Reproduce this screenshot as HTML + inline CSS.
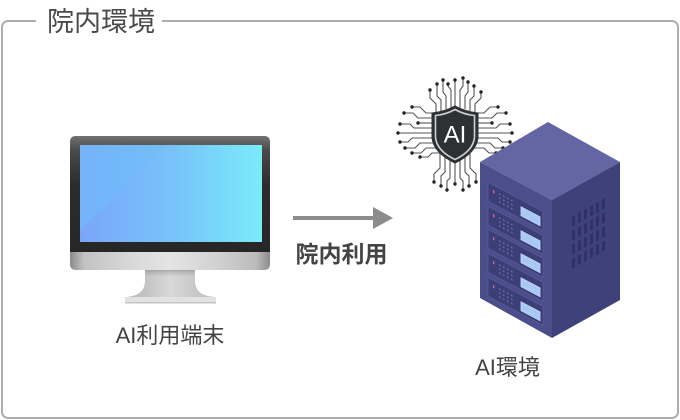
<!DOCTYPE html>
<html><head><meta charset="utf-8"><style>
html,body{margin:0;padding:0;background:#fff;}
svg{display:block;}
text{font-family:"Liberation Sans","Noto Sans CJK JP",sans-serif;}
</style></head><body>
<svg width="680" height="420" viewBox="0 0 680 420" xmlns="http://www.w3.org/2000/svg">
<defs>
<linearGradient id="bez" x1="0" y1="0" x2="0" y2="1">
<stop offset="0" stop-color="#727272"/><stop offset="0.12" stop-color="#4a4a4a"/><stop offset="0.4" stop-color="#2c2c2c"/><stop offset="1" stop-color="#262626"/>
</linearGradient>
<linearGradient id="scr" x1="0" y1="0" x2="1" y2="0">
<stop offset="0" stop-color="#7aa6fa"/><stop offset="0.5" stop-color="#78c2fa"/><stop offset="1" stop-color="#7aebfa"/>
</linearGradient>
<linearGradient id="chin" x1="0" y1="0" x2="1" y2="0">
<stop offset="0" stop-color="#8a8a8a"/><stop offset="0.07" stop-color="#c2c2c2"/><stop offset="0.3" stop-color="#d8d8d8"/><stop offset="0.5" stop-color="#e4e4e4"/><stop offset="0.75" stop-color="#d0d0d0"/><stop offset="0.93" stop-color="#bcbcbc"/><stop offset="1" stop-color="#8c8c8c"/>
</linearGradient>
<linearGradient id="neck" x1="0" y1="0" x2="1" y2="0">
<stop offset="0" stop-color="#b4b4b4"/><stop offset="0.5" stop-color="#d8d8d8"/><stop offset="1" stop-color="#bcbcbc"/>
</linearGradient>
<linearGradient id="neckv" x1="0" y1="0" x2="0" y2="1">
<stop offset="0" stop-color="#8a8a8a" stop-opacity="0.6"/><stop offset="0.25" stop-color="#aaa" stop-opacity="0"/>
</linearGradient>
</defs>

<!-- frame -->
<rect x="2" y="21" width="676" height="397" rx="6" fill="none" stroke="#aeaeae" stroke-width="2"/>
<rect x="36" y="12" width="126" height="18" fill="#fff"/>
<text x="47" y="31" font-size="27" fill="#4a4a4a" textLength="108" lengthAdjust="spacingAndGlyphs">院内環境</text>

<!-- monitor -->
<rect x="70" y="136" width="200" height="122" rx="5" fill="url(#bez)"/>
<rect x="80" y="145" width="182" height="97" fill="url(#scr)"/>
<polygon points="80,145 166,145 80,231" fill="#70bcfa" opacity="0.6"/>
<path d="M70 252 H270 V264 Q270 270 264 270 H76 Q70 270 70 264 Z" fill="url(#chin)"/>
<path d="M145 270 H195 V280 C195 290 200 296 215 297 H126 C140 296 145 290 145 280 Z" fill="url(#neck)"/>
<path d="M145 270 H195 V280 C195 290 200 296 215 297 H126 C140 296 145 290 145 280 Z" fill="url(#neckv)"/>
<rect x="125" y="297" width="91" height="6" fill="#e2e2e2"/>
<rect x="125" y="302" width="91" height="1.5" fill="#c4c4c4"/>

<text x="170" y="343" font-size="22" fill="#444" text-anchor="middle">AI利用端末</text>

<!-- arrow -->
<line x1="293" y1="218" x2="376" y2="218" stroke="#8c8c8c" stroke-width="4"/>
<polygon points="373,207 393,218 373,229" fill="#8c8c8c"/>
<text x="341.5" y="262" font-size="23" font-weight="bold" fill="#444" text-anchor="middle">院内利用</text>

<!-- AI circuit -->
<g fill="none" stroke="#555" stroke-width="1.1">
<path d="M434 113 H426 L420 107 H412"/>
<path d="M434 118 H418 L413 113 H404"/>
<path d="M434 123 H418"/>
<path d="M434 128 H414 L410 124 H400"/>
<path d="M434 133 H398"/>
<path d="M434 138 H412 L408 142 H400"/>
<path d="M436 143 H420 L415 148 H405"/>
<path d="M440 148 H426 L421 153 H412"/>
<path d="M444 153 H432 L428 157 H420"/>
<path d="M476 113 H484 L490 107 H498"/>
<path d="M476 118 H492 L497 113 H506"/>
<path d="M476 123 H492"/>
<path d="M476 128 H496 L500 124 H510"/>
<path d="M476 133 H512"/>
<path d="M476 138 H498 L502 142 H510"/>
<path d="M474 143 H490 L495 148 H503"/>
<path d="M470 148 H484 L489 153 H496"/>
<path d="M436 113 V104 L430 98 V90"/>
<path d="M441 111 V100 L437 96 V84"/>
<path d="M446 109 V96 L443 92 V80"/>
<path d="M451 108 V90 L448 86 V84"/>
<path d="M455 107 V80"/>
<path d="M460 108 V90 L463 86 V78"/>
<path d="M465 109 V96 L468 92 V82"/>
<path d="M470 111 V100 L474 96 V86"/>
<path d="M475 113 V104 L481 98 V92"/>
<path d="M440 150 V168 L434 174 V182"/>
<path d="M445 155 V172 L441 176 V186"/>
<path d="M450 159 V178 L447 181 V190"/>
<path d="M455 162 V184"/>
<path d="M460 159 V178 L463 181 V190"/>
<path d="M465 155 V172 L469 176 V186"/>
<path d="M470 150 V168 L476 174 V182"/>
</g>
<g fill="#222">
<circle cx="412" cy="107" r="1.7"/><circle cx="404" cy="113" r="1.7"/><circle cx="418" cy="123" r="1.7"/><circle cx="400" cy="124" r="1.7"/><circle cx="398" cy="133" r="1.7"/><circle cx="400" cy="142" r="1.7"/><circle cx="405" cy="148" r="1.7"/><circle cx="412" cy="153" r="1.7"/><circle cx="420" cy="157" r="1.7"/>
<circle cx="498" cy="107" r="1.7"/><circle cx="506" cy="113" r="1.7"/><circle cx="492" cy="123" r="1.7"/><circle cx="510" cy="124" r="1.7"/><circle cx="512" cy="133" r="1.7"/><circle cx="510" cy="142" r="1.7"/><circle cx="503" cy="148" r="1.7"/><circle cx="496" cy="153" r="1.7"/>
<circle cx="430" cy="90" r="1.7"/><circle cx="437" cy="84" r="1.7"/><circle cx="443" cy="80" r="1.7"/><circle cx="448" cy="84" r="1.7"/><circle cx="455" cy="80" r="1.7"/><circle cx="463" cy="78" r="1.7"/><circle cx="468" cy="82" r="1.7"/><circle cx="474" cy="86" r="1.7"/><circle cx="481" cy="92" r="1.7"/>
<circle cx="434" cy="182" r="1.7"/><circle cx="441" cy="186" r="1.7"/><circle cx="447" cy="190" r="1.7"/><circle cx="455" cy="184" r="1.7"/><circle cx="463" cy="190" r="1.7"/><circle cx="469" cy="186" r="1.7"/><circle cx="476" cy="182" r="1.7"/>
</g>
<path d="M432 113 Q444 112 455 106 Q466 112 478 113 V138 Q476 153 455 163 Q434 153 432 138 Z" fill="#2e3134" stroke="#2e3134" stroke-width="1"/>
<path d="M435.5 115.5 Q446 114.5 455 109.5 Q464 114.5 474.5 115.5 V137.5 Q473 151 455 159.5 Q437 151 435.5 137.5 Z" fill="none" stroke="#cfcfcf" stroke-width="1.6"/>
<text x="455" y="142.5" font-size="24" fill="#fff" text-anchor="middle">AI</text>

<!-- server -->
<polygon points="548,122 620,162 552,200 480,162" fill="#6366a2"/>
<polygon points="480,162 552,200 552,338 480,298" fill="#4b4e8b"/>
<polygon points="552,200 620,162 620,300 552,338" fill="#3f417a"/>
<g transform="translate(480,162) matrix(1,0.53,0,1,0,0)">
<g id="dr">
<rect x="8" y="16" width="55" height="19" fill="#3c3e77" stroke="#5a5d99" stroke-width="0.8"/>
<rect x="13" y="21" width="1.4" height="3" fill="#e0609a"/>
<g fill="#6a6eae">
<rect x="19" y="21" width="1.5" height="1.5"/><rect x="23" y="21" width="1.5" height="1.5"/><rect x="27" y="21" width="1.5" height="1.5"/><rect x="31" y="21" width="1.5" height="1.5"/>
<rect x="19" y="25" width="1.5" height="1.5"/><rect x="23" y="25" width="1.5" height="1.5"/><rect x="27" y="25" width="1.5" height="1.5"/><rect x="31" y="25" width="1.5" height="1.5"/>
<rect x="19" y="29" width="1.5" height="1.5"/><rect x="23" y="29" width="1.5" height="1.5"/><rect x="27" y="29" width="1.5" height="1.5"/><rect x="31" y="29" width="1.5" height="1.5"/>
</g>
<rect x="41" y="23" width="19" height="9" fill="#a8c9f4" stroke="#c8ddf9" stroke-width="0.8"/>
</g>
<use href="#dr" y="24"/>
<use href="#dr" y="47"/>
<use href="#dr" y="71"/>
<use href="#dr" y="95"/>
</g>
<g transform="translate(552,200) matrix(1,-0.56,0,1,0,0)" fill="#2f3168">
<g id="vr">
<rect x="20" y="28" width="3" height="10"/><rect x="26" y="28" width="3" height="10"/><rect x="32" y="28" width="3" height="10"/><rect x="38" y="28" width="3" height="10"/><rect x="44" y="28" width="3" height="10"/><rect x="50" y="28" width="3" height="10"/>
</g>
<use href="#vr" y="14"/>
<use href="#vr" y="28"/>
<use href="#vr" y="42"/>
</g>

<text x="507.5" y="375" font-size="22" fill="#444" text-anchor="middle">AI環境</text>
</svg>
</body></html>
